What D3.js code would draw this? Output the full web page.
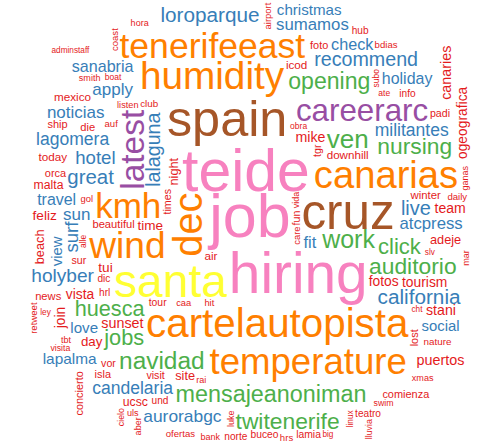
<!DOCTYPE html>
<html>
<head>
<meta charset="utf-8">
<script src="https://cdn.jsdelivr.net/npm/d3@7"></script>
<style>
  body { margin: 0; background: #fff; }
  svg text { font-family: "Liberation Sans", Arial, Helvetica, sans-serif; }
</style>
</head>
<body>
<div id="graphic"></div>
<script>
// word counts, as % of the most frequent word ("job")
var words = [
  "job", "teide", "hiring",
  "spain", "cruz",
  "santa",
  "cartelautopista", "dec", "humidity", "canarias", "wind", "temperature", "tenerifeeast", "kmh",
  "latest", "careerarc",
  "ven", "work", "navidad", "mensajeanoniman", "opening", "twitenerife", "auditorio", "nursing", "click", "jobs", "huesca",
  "loroparque", "california", "great", "live", "recommend", "lalaguna", "holyber", "hotel", "surf",
  "lagomera", "candelaria", "militantes", "aurorabgc", "noticias", "sun", "apply", "sumamos", "atcpress",
  "fit", "check", "sanabria", "holiday", "travel", "lapalma", "love", "christmas", "social", "view",
  "sunset", "puertos", "canaries", "mike", "stani", "team", "ogeografica", "tourism", "vista", "fotos",
  "join", "feliz", "tui", "time", "day", "site", "adeje", "night", "beach", "malta", "ucsc",
  "air", "icod", "mexico", "today", "downhill", "winter", "beautiful", "news", "die", "orca", "ship",
  "foto", "comienza", "lost", "concierto", "isla", "visit", "sur", "fun", "vor", "times", "padi", "tgr",
  "tour", "lamia", "buceo", "teatro", "dic", "info", "hrl", "norte", "hub", "und", "club", "nature",
  "coast", "bdias", "ofertas", "daily", "auf", "hrs", "retweet", "gol", "airport", "care", "hit", "caa",
  "listen", "bank", "aber", "mar", "tbt", "smith", "luke", "vida", "ganas", "hora", "rai", "uls", "xmas",
  "swim", "lluvia", "cielo", "visita", "ate", "alle", "subo", "boat", "obra",
  "adminstaff", "slv", "linux", "cht", "big", "ley"
];
var freqs = [
  100, 96, 92,
  80, 78,
  72,
  61, 60, 58, 57, 55, 54, 52, 51,
  48, 44,
  34, 32, 31, 29, 28.5, 28, 28, 28, 26.5, 26, 25.8,
  24, 24, 23.5, 22.5, 22, 22, 21, 20, 20,
  18, 18, 18, 17.7, 17, 17, 17, 16.6, 16.5,
  16, 15.5, 15.3, 15, 15, 14, 13.5, 13.5, 13, 13,
  12, 12, 12, 11.7, 11.7, 11.4, 11, 11, 11, 11,
  11, 10.7, 10.7, 10.5, 10, 9, 9, 9, 9, 8, 8,
  7, 7, 7, 7, 6.8, 6.4, 6, 6, 6, 5.7, 5.7,
  5.6, 5.6, 5.6, 5.5, 5.5, 5, 5, 5, 5, 5, 5, 5,
  4.5, 4.5, 4.3, 4, 4, 4, 4, 4, 4, 4, 3.5, 3.5,
  3, 3, 3, 3, 3, 3, 3, 2.7, 2.7, 2.6, 2.5, 2.5,
  2.3, 2, 2, 2, 2, 2, 2, 2, 2, 2, 2, 2, 2,
  1.5, 1.5, 1.5, 1.4, 1, 1, 1, 1, 1,
  0.5, 0.5, 0.5, 0.5, 0.5, 0.5
];
// words that are set vertically
var rotatedWords = [
  "dec", "latest", "surf", "lalaguna", "view", "night", "ogeografica", "canaries", "join",
  "beach", "fun", "concierto", "times", "lost", "coast", "retweet", "airport", "care", "tgr",
  "aber", "mar", "luke", "vida", "ganas", "lluvia", "cielo", "alle", "subo", "linux"
];
// RColorBrewer Set1, from rarest to most frequent
var palette = ["#E41A1C", "#377EB8", "#4DAF4A", "#984EA3", "#FF7F00", "#FFFF33", "#A65628", "#F781BF"];

var width = 500, height = 442;
var side = Math.min(width, height);
var ascent = 0.73, descent = 0.21, pad = 1;

var svg = d3.select('#graphic').append('svg')
  .attr('width', width)
  .attr('height', height);

//scales
var x = d3.scaleLinear().domain([0, 1]).range([(width - side) / 2, (width + side) / 2]);
var y = d3.scaleLinear().domain([0, 1]).range([0, side]);
var size = d3.scaleLinear().domain([0, 100]).range([8, 61]);
var colour = d3.scaleQuantize().domain([0, 100]).range(palette);

var data = words.map(function(w, i) {
  return {text: w, freq: freqs[i], rotate: rotatedWords.indexOf(w) > -1, shrink: 1};
}).sort(function(a, b) { return b.freq - a.freq; });

// hidden text used to measure word widths
var probe = svg.append('text').attr('visibility', 'hidden');
function measure(d, fs) {
  probe.attr('font-size', fs).text(d.text);
  return probe.node().getComputedTextLength();
}

var boxes = [];
function overlaps(bx, by, bw, bh) {
  for (var k = 0; k < boxes.length; k++) {
    var b = boxes[k];
    if (bx < b[0] + b[2] && bx + bw > b[0] && by < b[1] + b[3] && by + bh > b[1]) return true;
  }
  return false;
}

// walk a spiral out from the centre until the word's box is free
function place(d, i) {
  var fs = size(d.freq) * d.shrink;
  var tails = /[gjpqy]/.test(d.text);
  var inkH = fs * (ascent + (tails ? descent : 0));
  d.fs = fs;
  // offset from box centre to baseline
  d.base = fs * ascent - inkH / 2;
  var wid = (measure(d, fs) + pad) / side;
  var ht = (inkH + pad) / side;
  if (d.rotate) { var tmp = wid; wid = ht; ht = tmp; }
  var r = 0, theta = i * 2.39996;
  var x1 = 0.5, y1 = 0.5;
  while (r <= Math.SQRT1_2) {
    var bx = x1 - wid / 2, by = y1 - ht / 2;
    if (bx > 0 && by > 0 && bx + wid < 1 && by + ht < 1 && !overlaps(bx, by, wid, ht)) {
      boxes.push([bx, by, wid, ht]);
      d.x = x1;
      d.y = y1;
      return true;
    }
    theta += 0.1;
    r += 0.05 * 0.1 / (2 * Math.PI);
    x1 = 0.5 + r * Math.cos(theta);
    y1 = 0.5 + r * Math.sin(theta);
  }
  return false;
}

// biggest words first (same idea as R's wordcloud); a word that can't fit is shrunk, not dropped
data.forEach(function(d, i) {
  while (!place(d, i) && d.shrink > 0.4) d.shrink *= 0.9;
});
probe.remove();

svg.selectAll('text.word')
  .data(data.filter(function(d) { return d.x != null; }))
  .join('text')
  .attr('class', 'word')
  .attr('transform', function(d) {
    return 'translate(' + x(d.x) + ',' + y(d.y) + ')' + (d.rotate ? ' rotate(-90)' : '');
  })
  .attr('text-anchor', 'middle')
  .attr('y', function(d) { return d.base; })
  .attr('font-size', function(d) { return d.fs; })
  .attr('fill', function(d) { return colour(d.freq); })
  .text(function(d) { return d.text; });
</script>
</body>
</html>
